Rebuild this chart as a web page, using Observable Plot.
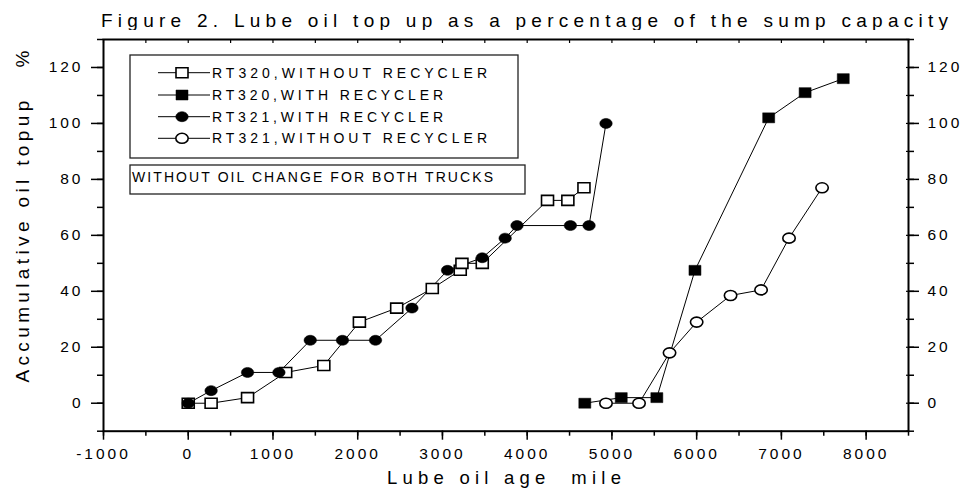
<!DOCTYPE html>
<html>
<head>
<meta charset="utf-8">
<script src="https://cdn.jsdelivr.net/npm/d3@7"></script>
<script src="https://cdn.jsdelivr.net/npm/@observablehq/plot@0.6"></script>
<style>
  body { margin: 0; background: #fff; }
  #wrap { position: relative; width: 967px; height: 499px; overflow: hidden; background: #fff;
          font-family: "Liberation Sans", Arial, Helvetica, sans-serif; }
  #title { display: block; }
  #chart svg { display: block; }
  g[aria-label="x-axis tick label"] text,
  g[aria-label="y-axis tick label"] text { letter-spacing: 3px; }
</style>
</head>
<body>
<div id="wrap">
  <svg id="title" width="967" height="30"></svg>
  <div id="chart"></div>
</div>
<script>
// ---- data ----
const titleText = "Figure 2. Lube oil top up as a percentage of the sump capacity";
const xLabel = "Lube oil age\u00a0\u00a0mile";
const yLabel = "Accumulative oil topup\u00a0\u00a0\u00a0%";
const noteText = "WITHOUT OIL CHANGE FOR BOTH TRUCKS";
const seriesNames = ["RT320,WITHOUT RECYCLER", "RT320,WITH RECYCLER", "RT321,WITH RECYCLER", "RT321,WITHOUT RECYCLER"];

const rt320WithoutMiles = [0, 270, 700, 1150, 1600, 2020, 2460, 2880, 3210, 3230, 3470, 4240, 4480, 4670];
const rt320WithoutPct   = [0, 0, 2, 11, 13.5, 29, 34, 41, 47.5, 50, 50, 72.5, 72.5, 77];
const rt320WithMiles    = [4680, 5110, 5530, 5980, 6850, 7280, 7730];
const rt320WithPct      = [0, 2, 2, 47.5, 102, 111, 116];
const rt321WithMiles    = [0, 270, 700, 1070, 1440, 1820, 2210, 2640, 3060, 3470, 3740, 3880, 4510, 4730, 4930];
const rt321WithPct      = [0, 4.5, 11, 11, 22.5, 22.5, 22.5, 34, 47.5, 52, 59, 63.5, 63.5, 63.5, 100];
const rt321WithoutMiles = [4930, 5320, 5680, 6000, 6400, 6760, 7090, 7480];
const rt321WithoutPct   = [0, 0, 18, 29, 38.5, 40.5, 59, 77];

const xMajorTicks = [-1000, 0, 1000, 2000, 3000, 4000, 5000, 6000, 7000, 8000];
const xMinorTicks = d3.range(-1000, 8501, 500);
const yMajorTicks = [0, 20, 40, 60, 80, 100, 120];
const yMinorTicks = d3.range(-10, 131, 10);

// ---- build tables ----
const toRows = (xs, ys, name) => xs.map((x, i) => ({x, y: ys[i], series: name}));
const s320wo = toRows(rt320WithoutMiles, rt320WithoutPct, seriesNames[0]);
const s320w  = toRows(rt320WithMiles, rt320WithPct, seriesNames[1]);
const s321w  = toRows(rt321WithMiles, rt321WithPct, seriesNames[2]);
const s321wo = toRows(rt321WithoutMiles, rt321WithoutPct, seriesNames[3]);

// ---- marker symbols (slightly wide, as in the reference) ----
const squareSym = {draw(ctx) { ctx.moveTo(-6, -5); ctx.lineTo(6, -5); ctx.lineTo(6, 5); ctx.lineTo(-6, 5); ctx.closePath(); }};
const ellipseSym = {draw(ctx) {
  const rx = 6.2, ry = 5, k = 0.5523;
  ctx.moveTo(rx, 0);
  ctx.bezierCurveTo(rx, ry * k, rx * k, ry, 0, ry);
  ctx.bezierCurveTo(-rx * k, ry, -rx, ry * k, -rx, 0);
  ctx.bezierCurveTo(-rx, -ry * k, -rx * k, -ry, 0, -ry);
  ctx.bezierCurveTo(rx * k, -ry, rx, -ry * k, rx, 0);
  ctx.closePath();
}};

const font = "'Liberation Sans', Arial, Helvetica, sans-serif";

const chart = Plot.plot({
  width: 967,
  height: 469,
  marginTop: 9,
  marginLeft: 103,
  marginRight: 59,
  marginBottom: 68.3,
  style: {fontFamily: font, fontSize: "15.5px", color: "black", background: "white", overflow: "visible"},
  x: {domain: [-1000, 8500], axis: null},
  y: {domain: [-10, 130], axis: null},
  marks: [
    Plot.axisX({ticks: xMinorTicks, tickSize: 5, tickFormat: () => "", label: null, strokeWidth: 1.5}),
    Plot.axisX({ticks: xMajorTicks, tickSize: 9, tickPadding: 8, tickFormat: d => String(d), label: null, strokeWidth: 1.5}),
    Plot.axisX({anchor: "top", ticks: xMinorTicks, tickSize: -3, tickFormat: () => "", label: null, strokeWidth: 1.2}),
    Plot.axisY({anchor: "left", ticks: yMinorTicks, tickSize: 6, tickFormat: () => "", label: null, strokeWidth: 1.5}),
    Plot.axisY({anchor: "left", ticks: yMajorTicks, tickSize: 12, tickPadding: 8, tickFormat: d => String(d), label: null, strokeWidth: 1.5}),
    Plot.axisY({anchor: "right", ticks: yMinorTicks, tickSize: 5, tickFormat: () => "", label: null, strokeWidth: 1.5}),
    Plot.axisY({anchor: "right", ticks: yMinorTicks, tickSize: -3, tickFormat: () => "", label: null, strokeWidth: 1.2}),
    Plot.axisY({anchor: "right", ticks: yMajorTicks, tickSize: 10, tickPadding: 9, tickFormat: d => String(d), label: null, strokeWidth: 1.5}),
    Plot.frame({stroke: "black", strokeWidth: 2}),
    Plot.line(s320wo, {x: "x", y: "y", stroke: "black", strokeWidth: 1}),
    Plot.line(s321w,  {x: "x", y: "y", stroke: "black", strokeWidth: 1}),
    Plot.line(s320w,  {x: "x", y: "y", stroke: "black", strokeWidth: 1}),
    Plot.line(s321wo, {x: "x", y: "y", stroke: "black", strokeWidth: 1}),
    Plot.dot(s320wo, {x: "x", y: "y", symbol: squareSym, fill: "white", stroke: "black", strokeWidth: 1.6}),
    Plot.dot(s321wo, {x: "x", y: "y", symbol: ellipseSym, fill: "white", stroke: "black", strokeWidth: 1.6}),
    Plot.dot(s320w,  {x: "x", y: "y", symbol: squareSym, fill: "black", stroke: "black", strokeWidth: 0.5}),
    Plot.dot(s321w,  {x: "x", y: "y", symbol: ellipseSym, fill: "black", stroke: "black", strokeWidth: 0.5}),
    Plot.text([xLabel], {text: d => d, frameAnchor: "bottom", textAnchor: "middle", dx: -2, dy: 53, fontSize: 18.5, fill: "black"}),
    Plot.text([yLabel], {text: d => d, frameAnchor: "left", textAnchor: "middle", rotate: -90, dx: -81, dy: -18.8, fontSize: 19, fill: "black"})
  ]
});
document.getElementById("chart").appendChild(chart);

// fit the wide letter spacing of the axis titles
const allText = d3.select(chart).selectAll("text");
allText.filter(function() { return this.textContent === xLabel; })
  .attr("textLength", 234).attr("lengthAdjust", "spacing");
allText.filter(function() { return this.textContent === yLabel; })
  .attr("textLength", 332).attr("lengthAdjust", "spacing");

// ---- title (above the chart svg) ----
d3.select("#title").append("text")
  .attr("x", 101).attr("y", 27)
  .attr("font-family", font).attr("font-size", 19).attr("fill", "black")
  .attr("textLength", 847).attr("lengthAdjust", "spacing")
  .text(titleText);

// ---- legend overlay (inside the plot frame) ----
const leg = d3.select("#wrap").append("svg")
  .attr("width", 967).attr("height", 499)
  .style("position", "absolute").style("left", "0px").style("top", "0px");
leg.append("rect").attr("x", 130).attr("y", 55).attr("width", 388).attr("height", 103)
  .attr("fill", "white").attr("stroke", "#222").attr("stroke-width", 1.3);
leg.append("rect").attr("x", 130).attr("y", 165).attr("width", 395).attr("height", 29)
  .attr("fill", "white").attr("stroke", "#222").attr("stroke-width", 1.3);
const legendSyms = [
  {sym: squareSym, fill: "white", sw: 1.6},
  {sym: squareSym, fill: "black", sw: 0.5},
  {sym: ellipseSym, fill: "black", sw: 0.5},
  {sym: ellipseSym, fill: "white", sw: 1.6}
];
const rowY = [72.7, 95, 116.7, 138.3];
const textLens = [275, 231, 231, 275];
seriesNames.forEach((name, i) => {
  const y = rowY[i];
  leg.append("line").attr("x1", 158).attr("x2", 210).attr("y1", y).attr("y2", y)
    .attr("stroke", "black").attr("stroke-width", 1);
  leg.append("path").attr("d", d3.symbol(legendSyms[i].sym)())
    .attr("transform", `translate(182,${y})`)
    .attr("fill", legendSyms[i].fill).attr("stroke", "black").attr("stroke-width", legendSyms[i].sw);
  leg.append("text").attr("x", 212).attr("y", y + 5)
    .attr("font-family", font).attr("font-size", 14).attr("fill", "black")
    .attr("textLength", textLens[i]).attr("lengthAdjust", "spacing")
    .text(name);
});
leg.append("text").attr("x", 132).attr("y", 182)
  .attr("font-family", font).attr("font-size", 14).attr("fill", "black")
  .attr("textLength", 361).attr("lengthAdjust", "spacing")
  .text(noteText);
</script>
</body>
</html>
